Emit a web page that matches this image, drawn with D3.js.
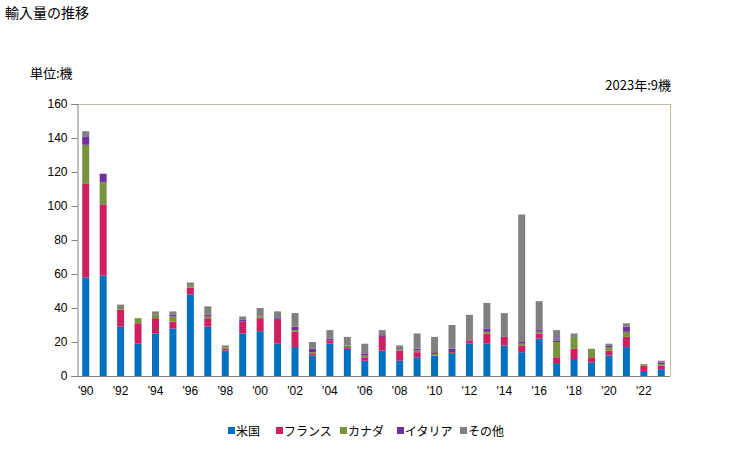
<!DOCTYPE html>
<html><head><meta charset="utf-8">
<script src="https://cdn.jsdelivr.net/npm/d3@7"></script>
<style>body{margin:0;background:#fff;} svg{display:block;}</style>
</head><body>
<svg id="c" width="729" height="450"></svg>
<script>
const years = d3.range(1990, 2024);
const seriesNames = ["米国", "フランス", "カナダ", "イタリア", "その他"];
const us = [58,59,29,19,25,28,48,29,15,25,26,19,17,12,19,16,9,15,9,11,12,13,19,19,18,14,22,7,10,8,12,17,3,4];
const fr = [55,42,10,12,9,4,4,5,1,7,8,14,9,1,2,1,2,8,6,3,0,1,2,6,5,4,3,4,6,3,3,6,3,2];
const ca = [23,13,1,3,2,3,1,1,1,0,1,0,1,1,0,1,1,0,0,1,1,0,0,1,0,1,1,9,7,5,2,3,1,1];
const it = [5,5,0,0,0,1,0,1,0,1,0,1,2,2,1,0,1,1,0,1,1,2,0,2,0,1,1,1,0,0,1,3,0,1];
const ot = [3,0,2,0,2,2,2,5,1,2,5,4,8,4,5,5,6,3,3,9,9,14,15,15,14,75,17,6,2,0,1,2,0,1];
const yTicks = [0,20,40,60,80,100,120,140,160];
const colors = ["#0070C0", "#D01F60", "#77933C", "#7030A0", "#808080"];

const svg = d3.select("#c");
const L = 77, R = 670, T = 104, B = 376;
const jp = "'Noto Sans CJK JP', sans-serif";
const num = "'Liberation Sans', Arial, sans-serif";

const table = years.map((y, i) => ({year: y, "米国": us[i], "フランス": fr[i], "カナダ": ca[i], "イタリア": it[i], "その他": ot[i]}));
const stacked = d3.stack().keys(seriesNames)(table);

const x = d3.scaleBand().domain(years).range([L, R]).paddingInner(0.6).paddingOuter(0.3);
const y = d3.scaleLinear().domain([0, 160]).range([B, T]);

// frame top & right
svg.append("line").attr("x1", L).attr("x2", R).attr("y1", T + 0.5).attr("y2", T + 0.5).attr("stroke", "#C4BC96");
svg.append("line").attr("x1", R + 0.5).attr("x2", R + 0.5).attr("y1", T).attr("y2", B).attr("stroke", "#C4BC96");

// bars
svg.append("g").selectAll("g").data(stacked).join("g")
  .attr("fill", (d, i) => colors[i])
  .selectAll("rect").data(d => d).join("rect")
  .attr("x", d => x(d.data.year))
  .attr("width", x.bandwidth())
  .attr("y", d => y(d[1]))
  .attr("height", d => y(d[0]) - y(d[1]));

// y axis
const ya = svg.append("g").attr("transform", `translate(${L + 0.5},0)`)
  .call(d3.axisLeft(y).tickValues(yTicks).tickSize(6).tickPadding(4));
ya.select(".domain").attr("stroke", "#808080");
ya.selectAll(".tick line").attr("stroke", "#808080");
ya.selectAll("text").attr("font-family", num).attr("font-size", 12).attr("fill", "#000");

// x axis
const xa = svg.append("g").attr("transform", `translate(0,${B + 0.5})`)
  .call(d3.axisBottom(x).tickValues(years.filter(v => v % 2 === 0)).tickSize(0).tickPadding(10)
    .tickFormat(v => "'" + String(v).slice(2)));
xa.select(".domain").attr("stroke", "#808080").attr("d", `M${L},0H${R}`);
xa.selectAll("text").attr("font-family", num).attr("font-size", 12).attr("fill", "#000");

// texts
svg.append("text").attr("x", 5).attr("y", 18).attr("font-family", jp).attr("font-size", 14).text("輸入量の推移");
svg.append("text").attr("x", 30).attr("y", 78).attr("font-family", jp).attr("font-size", 13).text("単位:機");
svg.append("text").attr("x", 671).attr("y", 90).attr("text-anchor", "end").attr("font-family", jp).attr("font-size", 13).text("2023年:9機");

// legend
const legX = [228, 276, 340, 397, 460];
const lg = svg.append("g").selectAll("g").data(seriesNames).join("g")
  .attr("transform", (d, i) => `translate(${legX[i]},431)`);
lg.append("rect").attr("x", 0).attr("y", -4).attr("width", 7).attr("height", 7).attr("fill", (d, i) => colors[i]);
lg.append("text").attr("x", 8).attr("y", 5).attr("font-family", jp).attr("font-size", 12).text(d => d);
</script>
</body></html>
